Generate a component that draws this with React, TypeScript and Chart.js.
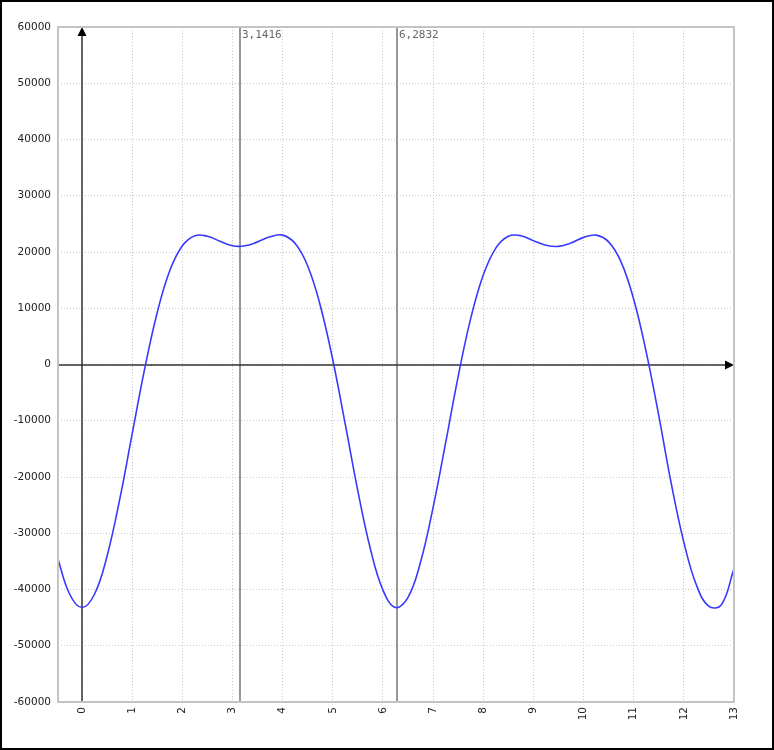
import React, { useEffect, useRef } from "react";
import { Chart, registerables } from "chart.js";

Chart.register(...registerables);

const xValues = [
  -0.5, -0.25, 0, 0.25, 0.5, 0.75, 1, 1.25, 1.5, 1.75, 2, 2.25, 2.5, 2.75, 3, 3.25, 3.5, 3.75,
  4, 4.25, 4.5, 4.75, 5, 5.25, 5.5, 5.75, 6, 6.25, 6.5, 6.75, 7, 7.25, 7.5, 7.75, 8, 8.25, 8.5,
  8.75, 9, 9.25, 9.5, 9.75, 10, 10.25, 10.5, 10.75, 11, 11.25, 11.5, 11.75, 12, 12.25, 12.5, 12.75, 13,
];
const yValues = [
  -34000, -40800, -43200, -40800, -34000, -24000, -12300, -700, 9300, 16700, 21100, 22900, 22800,
  21900, 21100, 21100, 21800, 22700, 23000, 21500, 17500, 10500, 800, -10700, -22500, -32800,
  -40100, -43200, -41400, -35100, -25400, -13900, -2100, 8200, 15900, 20700, 22800, 22900, 22000,
  21200, 21000, 21600, 22600, 23000, 21800, 18200, 11600, 2200, -9100, -21200, -31600, -39200,
  -43000, -42700, -36300,
];
const xTicks = [0, 1, 2, 3, 4, 5, 6, 7, 8, 9, 10, 11, 12, 13];
const markerValues = [3.1416, 6.2832];
const markerLabels = ["3,1416", "6,2832"];

if (typeof document !== "undefined") {
  document.body.style.margin = "0";
}

const overlayPlugin = {
  id: "overlay",
  beforeDatasetsDraw(chart: any) {
    const { ctx, chartArea, scales } = chart;
    const { left, right, top, bottom } = chartArea;
    const xs = scales.x;
    const ys = scales.y;
    ctx.save();
    // marker lines
    markerValues.forEach((v, i) => {
      const px = Math.round(xs.getPixelForValue(v));
      ctx.strokeStyle = "#8c8c8c";
      ctx.lineWidth = 1.8;
      ctx.beginPath();
      ctx.moveTo(px, top);
      ctx.lineTo(px, bottom);
      ctx.stroke();
      ctx.fillStyle = "#666666";
      ctx.font = "11px 'DejaVu Sans Mono'";
      ctx.textAlign = "left";
      ctx.textBaseline = "top";
      ctx.fillText(markerLabels[i], px + 2, top + 3);
    });
    // x axis (y = 0)
    const y0 = Math.round(ys.getPixelForValue(0));
    ctx.strokeStyle = "#333333";
    ctx.fillStyle = "#000000";
    ctx.lineWidth = 1.5;
    ctx.beginPath();
    ctx.moveTo(left, y0);
    ctx.lineTo(right - 6, y0);
    ctx.stroke();
    ctx.beginPath();
    ctx.moveTo(right, y0);
    ctx.lineTo(right - 9, y0 - 4.5);
    ctx.lineTo(right - 9, y0 + 4.5);
    ctx.closePath();
    ctx.fill();
    // y axis (x = 0)
    const x0 = Math.round(xs.getPixelForValue(0));
    ctx.beginPath();
    ctx.moveTo(x0, bottom);
    ctx.lineTo(x0, top + 6);
    ctx.stroke();
    ctx.beginPath();
    ctx.moveTo(x0, top);
    ctx.lineTo(x0 - 4.5, top + 9);
    ctx.lineTo(x0 + 4.5, top + 9);
    ctx.closePath();
    ctx.fill();
    ctx.restore();
  },
  afterDraw(chart: any) {
    const { ctx, chartArea } = chart;
    ctx.save();
    ctx.strokeStyle = "#c4c4c4";
    ctx.lineWidth = 2;
    ctx.strokeRect(chartArea.left, chartArea.top, chartArea.right - chartArea.left, chartArea.bottom - chartArea.top);
    ctx.restore();
  },
};

export default function App() {
  const canvasRef = useRef<HTMLCanvasElement | null>(null);

  useEffect(() => {
    if (!canvasRef.current) return;
    const chart = new Chart(canvasRef.current, {
      type: "line",
      data: {
        datasets: [
          {
            data: xValues.map((x, i) => ({ x, y: yValues[i] })),
            borderColor: "#3a3aff",
            borderWidth: 1.6,
            pointRadius: 0,
            tension: 0.4,
            fill: false,
          },
        ],
      },
      options: {
        animation: false,
        responsive: false,
        maintainAspectRatio: false,
        layout: { padding: { left: 0, right: 38, top: 25, bottom: 0 } },
        plugins: {
          legend: { display: false },
          tooltip: { enabled: false },
        },
        scales: {
          x: {
            type: "linear",
            min: -0.48,
            max: 13,
            afterBuildTicks: (scale: any) => {
              scale.ticks = xTicks.map((v) => ({ value: v }));
            },
            afterFit: (scale: any) => {
              scale.height = 46;
            },
            grid: {
              color: "#c8c8c8",
              lineWidth: 1,
              drawTicks: false,
            },
            border: { display: false, dash: [1, 2] },
            ticks: {
              autoSkip: false,
              maxRotation: 90,
              minRotation: 90,
              padding: 5,
              color: "#222222",
              font: { family: "'DejaVu Sans'", size: 10.5 },
              callback: (v: any) => String(v),
            },
          },
          y: {
            type: "linear",
            min: -60000,
            max: 60000,
            afterFit: (scale: any) => {
              scale.width = 56;
            },
            grid: {
              color: "#c8c8c8",
              lineWidth: 1,
              drawTicks: false,
            },
            border: { display: false, dash: [1, 2] },
            ticks: {
              stepSize: 10000,
              padding: 7,
              color: "#222222",
              font: { family: "'DejaVu Sans'", size: 10.5 },
              callback: (v: any) => String(v),
            },
          },
        },
      },
      plugins: [overlayPlugin],
    } as any);
    return () => chart.destroy();
  }, []);

  return (
    <div
      style={{
        width: 774,
        height: 750,
        boxSizing: "border-box",
        border: "2px solid #000",
        background: "#fff",
      }}
    >
      <canvas ref={canvasRef} width={770} height={746} style={{ display: "block" }} />
    </div>
  );
}
